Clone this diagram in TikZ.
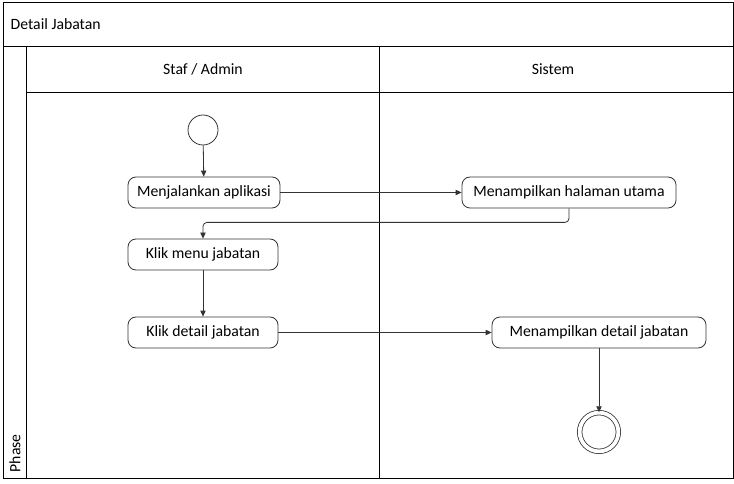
\documentclass[tikz,border=0pt]{standalone}
\usepackage{fontspec}
\setmainfont{Carlito}
\usetikzlibrary{arrows.meta, positioning, calc}
\tikzset{
  lane/.style={draw=black, line width=0.6pt},
  action/.style={rectangle, rounded corners=6pt, minimum height=23.25pt, text centered, draw=black!80, line width=0.6pt, fill=white},
  startnode/.style={circle, draw=black!80, line width=0.6pt, minimum size=22.5pt, inner sep=0pt},
  endnode/.style={circle, draw=black!80, line width=0.6pt, double, double distance=2.8pt, minimum size=29pt, inner sep=0pt},
  arrow/.style={draw=black!80, line width=0.6pt, -{Triangle[length=4.5pt,width=4pt]}}
}

\begin{document}
\begin{tikzpicture}[x=0.75pt, y=-0.75pt, every node/.style={font=\fontsize{11.8pt}{14pt}\selectfont}]
  \useasboundingbox (0,0) rectangle (734,484);

  % pool, phase strip and lanes
  \draw [lane] (3,2) rectangle (733,478);
  \draw [lane] (3,46) -- (733,46);
  \draw [lane] (26,46) -- (26,478);
  \draw [lane] (26,92) -- (733,92);
  \draw [lane] (379,46) -- (379,478);
  \node (pool) [anchor=west] at (6,24) {Detail Jabatan};
  \node (phase) [anchor=west, rotate=90] at (15,477) {Phase};
  \node (staf) at (203,69) {Staf / Admin};
  \node (sistem) at (553,69) {Sistem};

  % activity nodes
  \node (start) [startnode] at (203,130) {};
  \node (jalan) [action, minimum width=114pt] at (204,192.5) {Menjalankan aplikasi};
  \node (utama) [action, minimum width=160.5pt] at (569,192.5) {Menampilkan halaman utama};
  \node (menu) [action, minimum width=112.5pt] at (203,254.5) {Klik menu jabatan};
  \node (klikdetail) [action, minimum width=112.5pt] at (203,332.5) {Klik detail jabatan};
  \node (detail) [action, minimum width=160.5pt] at (599,332.5) {Menampilkan detail jabatan};
  \node (stop) [endnode] at (599,432) {};

  % flows
  \draw [arrow] (start) -- (jalan);
  \draw [arrow] (jalan) -- (utama);
  \draw [arrow, rounded corners=3pt] (utama.south) -- ++(0,14) -| (menu.north);
  \draw [arrow] (menu) -- (klikdetail);
  \draw [arrow] (klikdetail) -- (detail);
  \draw [arrow] (detail) -- (stop);
\end{tikzpicture}
\end{document}
